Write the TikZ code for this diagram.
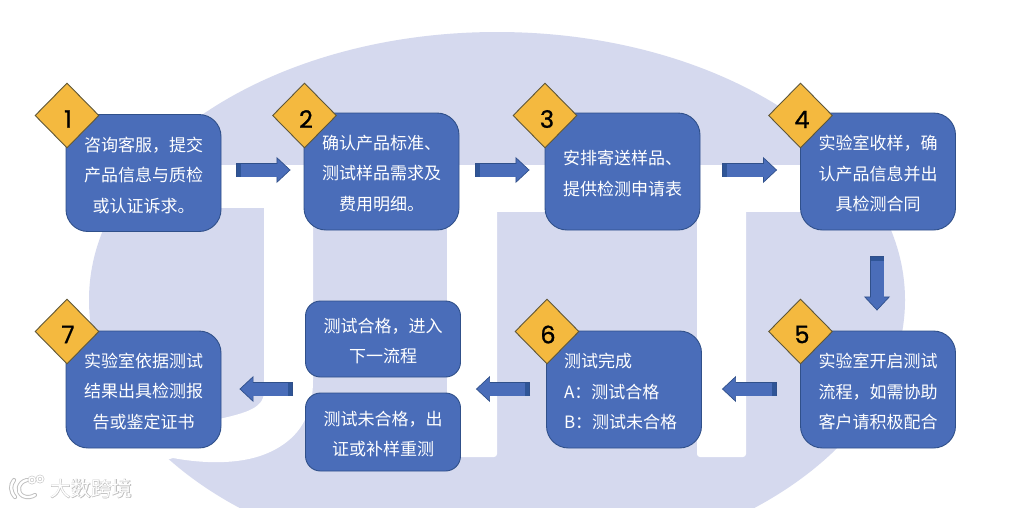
\documentclass[tikz,border=0pt]{standalone}
\usepackage{fontspec}
\usetikzlibrary{shapes.geometric,arrows.meta,calc}
\setmainfont{Liberation Sans}
\newfontfamily\cjkfont{Noto Sans CJK SC}
\newfontfamily\cjkheavy{Noto Sans CJK SC}[FakeBold=3]
\newfontfamily\digitfont{Poppins}[FakeBold=1]
\definecolor{lav}{HTML}{D5D9EE}
\definecolor{boxfill}{HTML}{4A6DB9}
\definecolor{boxedge}{HTML}{30508A}
\definecolor{tailfill}{HTML}{2F5597}
\definecolor{gold}{HTML}{F4B93F}
\definecolor{goldedge}{HTML}{5E5638}
\definecolor{wmgrey}{HTML}{BEBEBE}
\tikzset{
  stepbox/.style={rectangle,rounded corners=22pt,draw=boxedge,line width=.9pt,fill=boxfill,
    minimum width=155pt,minimum height=117pt,inner sep=0pt},
  smallbox/.style={stepbox,rounded corners=15pt,minimum height=76pt},
  steptext/.style={inner sep=0pt,text=white,align=center,yshift=-2pt,
    font=\cjkfont\fontsize{17}{30.5}\selectfont},
  says/.style={label={[steptext]center:{#1}}},
  sayleft/.style={label={[steptext,text width=120pt,align=left]center:{#1}}},
  badge/.style={diamond,draw=goldedge,line width=.9pt,fill=gold,minimum width=64pt,minimum height=65pt,
    inner sep=0pt,aspect=1},
  digit/.style={text=black,inner sep=0pt,font=\digitfont\fontsize{24}{24}\selectfont},
}
% block arrow between two points: start, end, gap at start, gap at end
\newcommand{\blockarrow}[4]{%
  \draw[line width=14.4pt,draw=boxedge,
    -{Triangle[length=14pt,width=26pt,fill=boxfill,color=boxedge,line width=.7pt]},
    shorten <=#3,shorten >=#4] (#1) -- (#2);
  \draw[line width=13pt,draw=boxfill,shorten <=#3+5pt,shorten >=#4+13pt] (#1) -- (#2);
  \draw[line width=13pt,draw=tailfill] ($(#1)!#3+.6pt!(#2)$) -- ($(#1)!#3+5pt!(#2)$);
}
\begin{document}
\begin{tikzpicture}[x=1pt,y=-1pt]
\useasboundingbox (0,0) rectangle (1014,507);
\fill[white] (0,0) rectangle (1014,507);
% background emblem
\begin{scope}
  \clip (0,0) rectangle (1014,507);
  \fill[lav] (497,300) ellipse [x radius=408,y radius=268];
  \fill[white] (0,165) rectangle (1014,212);
  \fill[lav] (100,208) rectangle (264,213);
  \fill[white] (264,190) -- (264,392) .. controls (264,410) and (240,414) .. (215,420)
     -- (130,440) -- (160,462) -- (173,458) .. controls (200,463) and (240,466) .. (270,452)
     .. controls (300,438) and (313,415) .. (313,380) -- (313,190) -- cycle;
  \fill[white,rounded corners=3pt] (447,190) rectangle (497,457);
  \fill[white,rounded corners=3pt] (697,190) rectangle (746,457);
\end{scope}
% step boxes
\node[stepbox,says={咨询客服，提交\\产品信息与质检\\或认证诉求。}] (box1) at (143.5,173) {};
\node[stepbox,says={确认产品标准、\\测试样品需求及\\费用明细。}] (box2) at (381.5,171.5) {};
\node[stepbox,says={安排寄送样品、\\提供检测申请表}] (box3) at (622.5,171.5) {};
\node[stepbox,says={实验室收样，确\\认产品信息并出\\具检测合同}] (box4) at (878,171.5) {};
\node[stepbox,says={实验室开启测试\\流程，如需协助\\客户请积极配合}] (box5) at (878,389.5) {};
\node[stepbox,sayleft={测试完成\\A：测试合格\\B：测试未合格}] (box6) at (624,389.5) {};
\node[stepbox,says={实验室依据测试\\结果出具检测报\\告或鉴定证书}] (box7) at (143.5,389.5) {};
\node[smallbox,says={测试合格，进入\\下一流程}] (boxa) at (383,339) {};
\node[smallbox,minimum height=78pt,says={测试未合格，出\\证或补样重测}] (boxb) at (383,432) {};
% badges
\node[badge,label={[digit,xshift=1pt,yshift=-3.5pt]center:1}] (d1) at (67,115.5) {};
\node[badge,label={[digit,xshift=1.5pt,yshift=-3.5pt]center:2}] (d2) at (304.5,115.5) {};
\node[badge,label={[digit,xshift=2pt,yshift=-3.5pt]center:3}] (d3) at (545,115.5) {};
\node[badge,label={[digit,xshift=1.5pt,yshift=-4pt]center:4}] (d4) at (800.5,115.5) {};
\node[badge,label={[digit,xshift=1.5pt,yshift=-3pt]center:5}] (d5) at (800.5,331.5) {};
\node[badge,label={[digit,xshift=1pt,yshift=-3pt]center:6}] (d6) at (547,331.5) {};
\node[badge,label={[digit,xshift=1pt,yshift=-3pt]center:7}] (d7) at (67,331.5) {};
% arrows
\coordinate (rowa) at (0,170);
\coordinate (rowb) at (0,389);
\coordinate (colc) at (877,0);
\coordinate (boxab) at ($(boxa.east)!.5!(boxb.east)$);
\coordinate (boxabw) at ($(boxa.west)!.5!(boxb.west)$);
\blockarrow{box1.east |- rowa}{box2.west |- rowa}{15pt}{13pt}
\blockarrow{box2.east |- rowa}{box3.west |- rowa}{16pt}{15pt}
\blockarrow{box3.east |- rowa}{box4.west |- rowa}{22pt}{23pt}
\blockarrow{colc |- box4.south}{colc |- box5.north}{26pt}{20pt}
\blockarrow{box5.west |- rowb}{box6.east |- rowb}{23pt}{20pt}
\blockarrow{box6.west |- rowb}{boxab |- rowb}{16pt}{15pt}
\blockarrow{boxabw |- rowb}{box7.east |- rowb}{12pt}{18pt}
% watermark
\node[inner sep=0pt,anchor=west,text=wmgrey,font=\cjkheavy\fontsize{20.5}{20.5}\selectfont] (wma) at (50,488.5) {大数跨境};
\node[inner sep=0pt,anchor=west,text=white,font=\cjkfont\fontsize{20.5}{20.5}\selectfont] (wmb) at (50,488.5) {大数跨境};
\foreach \c/\w in {wmgrey/4.2pt,white/2.4pt}{
  \draw[\c,line width=\w,line cap=round] (14,480) .. controls (10,485) and (10,491) .. (15,497);
  \draw[\c,line width=\w,line cap=round] (27,480) .. controls (18,482) and (16,492) .. (23,496) .. controls (27,498) and (32,497) .. (35,495);
  \draw[\c,line width=\w*.6] (32,480) circle [radius=3];
  \draw[\c,line width=\w*.6] (40,479) circle [radius=3];
}
\end{tikzpicture}
\end{document}
